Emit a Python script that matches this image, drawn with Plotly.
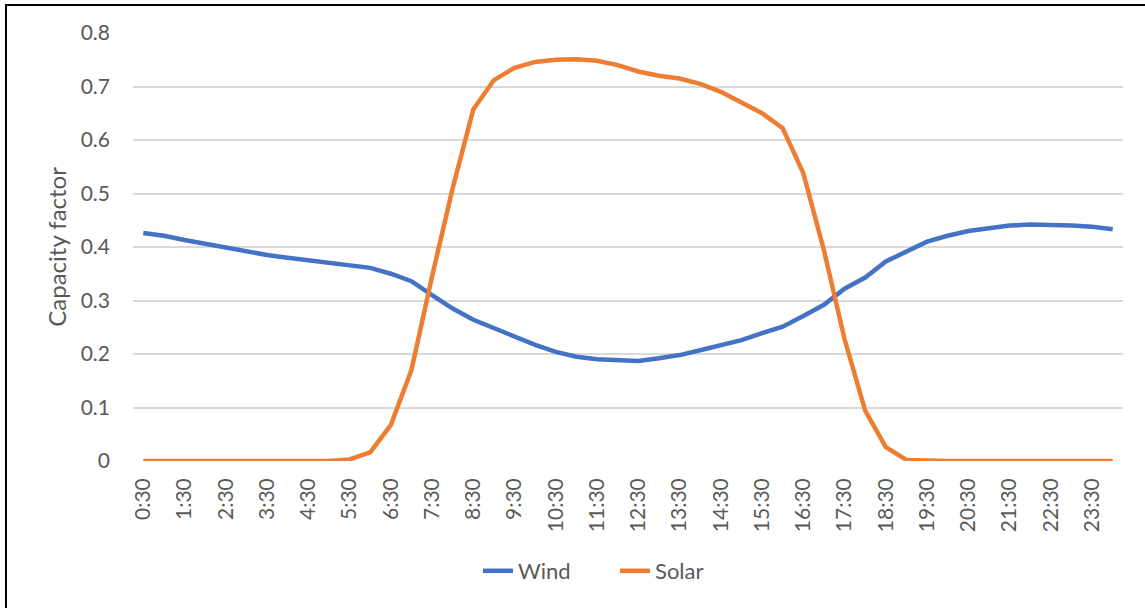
import plotly.graph_objects as go

# Half-hourly time slots (0:30 .. 24:00)
times = [f"{(m // 60)}:{m % 60:02d}" for m in range(30, 24 * 60 + 1, 30)]

wind = [0.426, 0.421, 0.413, 0.406, 0.398, 0.391, 0.385, 0.380, 0.375, 0.370,
        0.365, 0.361, 0.350, 0.336, 0.310, 0.285, 0.264, 0.248, 0.232, 0.217,
        0.204, 0.195, 0.190, 0.188, 0.187, 0.192, 0.198, 0.207, 0.217, 0.226,
        0.239, 0.251, 0.271, 0.292, 0.322, 0.343, 0.373, 0.391, 0.410, 0.421,
        0.430, 0.435, 0.440, 0.442, 0.442, 0.440, 0.438, 0.433]

solar = [0.0, 0.0, 0.0, 0.0, 0.0, 0.0, 0.0, 0.0, 0.0, 0.0,
         0.003, 0.016, 0.067, 0.170, 0.345, 0.510, 0.657, 0.712, 0.735, 0.746,
         0.750, 0.751, 0.748, 0.740, 0.728, 0.720, 0.715, 0.705, 0.690, 0.670,
         0.650, 0.622, 0.538, 0.394, 0.228, 0.094, 0.026, 0.002, 0.0, 0.0,
         0.0, 0.0, 0.0, 0.0, 0.0, 0.0, 0.0, 0.0]

# Labels shown on the category axis: every hour at half past
tick_labels = times[::2]

y_ticks = [0, 0.1, 0.2, 0.3, 0.4, 0.5, 0.6, 0.7, 0.8]
y_tick_text = ["0", "0.1", "0.2", "0.3", "0.4", "0.5", "0.6", "0.7", "0.8"]

FONT = "Lato"
TEXT_COLOR = "#595959"

fig = go.Figure()
fig.add_trace(go.Scatter(x=times, y=wind, mode="lines", name="Wind",
                         line=dict(color="#4472C4", width=4.5)))
fig.add_trace(go.Scatter(x=times, y=solar, mode="lines", name="Solar",
                         line=dict(color="#ED7D31", width=4.5)))

fig.update_layout(
    width=1145, height=608,
    margin=dict(l=133, r=22, t=33, b=147),
    paper_bgcolor="white", plot_bgcolor="white",
    font=dict(family=FONT, color=TEXT_COLOR, size=21),
    showlegend=True,
    legend=dict(orientation="h", x=0.3485, xanchor="left", y=-0.257,
                yanchor="middle", font=dict(size=22, color=TEXT_COLOR),
                bgcolor="rgba(0,0,0,0)", entrywidth=92, entrywidthmode="pixels"),
    xaxis=dict(type="category", categoryorder="array", categoryarray=times,
               range=[-0.5, len(times) - 0.5],
               tickmode="array", tickvals=tick_labels, ticktext=tick_labels,
               tickangle=-90, showgrid=False, zeroline=False,
               showline=False, ticks="", ticklabelstandoff=12,
               tickfont=dict(size=21, color=TEXT_COLOR)),
    yaxis=dict(range=[0, 0.8], tickmode="array", tickvals=y_ticks,
               ticktext=y_tick_text, showgrid=True, gridcolor="#D9D9D9",
               gridwidth=1.5, zeroline=False, showline=False, ticks="",
               ticklabelstandoff=22, tickfont=dict(size=21, color=TEXT_COLOR)),
    shapes=[dict(type="rect", xref="paper", yref="paper",
                 x0=-0.1283, x1=1.2, y0=-1.0, y1=1.0654,
                 line=dict(color="black", width=2), layer="below")],
    annotations=[dict(text="Capacity factor", xref="paper", yref="paper",
                      x=-0.078, y=0.5, xanchor="center", yanchor="middle",
                      textangle=-90, showarrow=False,
                      font=dict(size=24, color=TEXT_COLOR, family=FONT))],
)

fig.write_html("out.html")
